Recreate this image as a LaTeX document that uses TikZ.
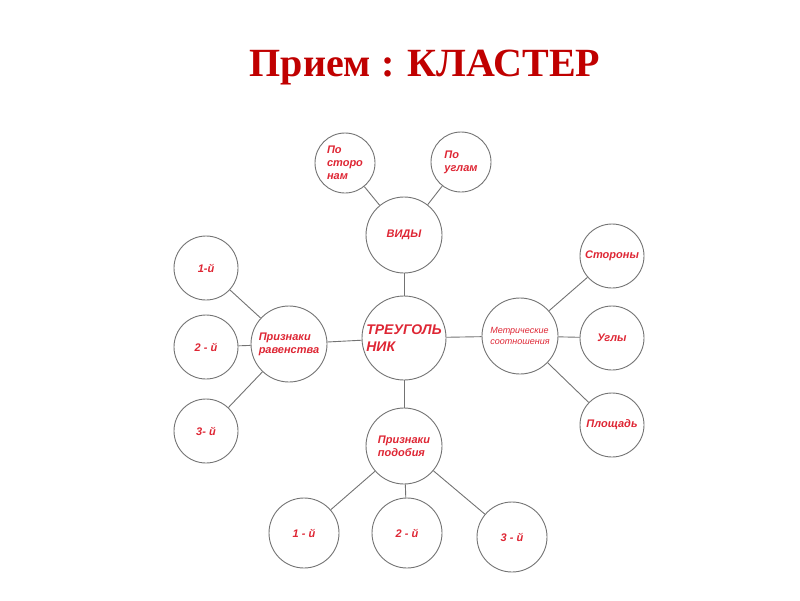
\documentclass[tikz,border=0pt]{standalone}
\usepackage{fontspec}
\setmainfont{Liberation Serif}
\setsansfont{Liberation Sans}
\usepackage{xcolor}
\usetikzlibrary{positioning}

\definecolor{titlered}{RGB}{192,0,0}
\definecolor{textred}{RGB}{222,38,52}
\definecolor{rimgray}{RGB}{115,115,115}

\begin{document}
\begin{tikzpicture}[x=1pt, y=-1pt,
                vertex/.style = {circle, draw=rimgray, line width=0.9pt, inner sep=0pt,
                                 align=left, text=textred,
                                 font=\sffamily\bfseries\itshape\fontsize{11}{13}\selectfont},
                leaf/.style = {vertex, minimum size=64pt},
                hub/.style = {vertex, minimum size=76pt},
                link/.style = {draw=rimgray, line width=0.9pt}
                ]

                \useasboundingbox (0,0) rectangle (800,600);

                % --- Titolo ---
                \node[text=titlered, font=\bfseries\fontsize{40}{44}\selectfont] (title) at (425,68) {Прием : КЛАСТЕР};

                % --- Nodo centrale ---
                \node[vertex, minimum size=84pt, font=\sffamily\bfseries\itshape\fontsize{14}{17}\selectfont] (tri) at (404,338) {ТРЕУГОЛЬ\\НИК};

                % --- Nodi principali ---
                \node[hub] (vid) at (404,235) {ВИДЫ};
                \node[hub] (rav) at (289,344) {Признаки\\равенства};
                \node[hub, font=\sffamily\itshape\fontsize{9}{11}\selectfont] (met) at (520,336) {Метрические\\соотношения};
                \node[hub] (pod) at (404,446) {Признаки\\подобия};

                % --- Foglie ---
                \node[leaf, minimum size=60pt] (v1) at (345,163) {По\\сторо\\нам};
                \node[leaf, minimum size=60pt] (v2) at (461,162) {По\\углам};
                \foreach \i/\y/\t in {1/268/1-й, 2/347/2 - й, 3/431/3- й} {
                    \node[leaf] (r\i) at (206,\y) {\t};
                }
                \foreach \i/\y/\t in {1/256/Стороны, 2/338/Углы, 3/425/Площадь} {
                    \node[leaf] (m\i) at (612,\y) {\t};
                }
                \foreach \i/\x/\y in {1/304/533, 2/407/533, 3/512/537} {
                    \node[leaf, minimum size=70pt] (p\i) at (\x,\y) {\i\ - й};
                }

                % --- Collegamenti ---
                \draw[link] (tri) -- (vid);
                \draw[link] (tri) -- (rav);
                \draw[link] (tri) -- (met);
                \draw[link] (tri) -- (pod);
                \draw[link] (vid) -- (v1);
                \draw[link] (vid) -- (v2);
                \foreach \i in {1,2,3} {
                    \draw[link] (rav) -- (r\i);
                    \draw[link] (met) -- (m\i);
                    \draw[link] (pod) -- (p\i);
                }

            \end{tikzpicture}
\end{document}
